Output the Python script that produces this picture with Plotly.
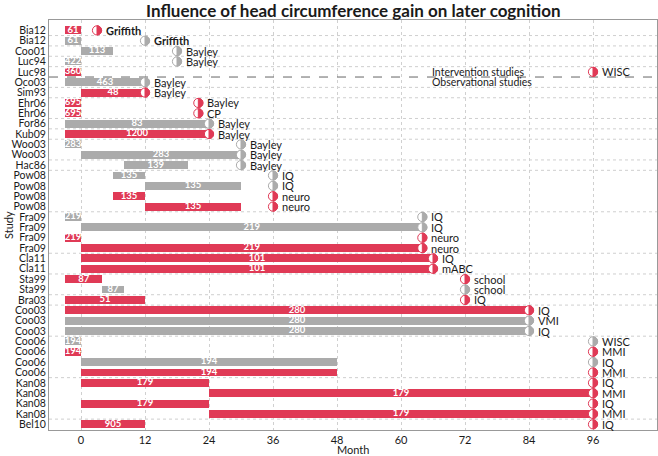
import math
import plotly.graph_objects as go

# ---------------- data ----------------
studies = ["Bia12", "Bia12", "Coo01", "Luc94", "Luc98", "Oco03", "Sim93", "Ehr06", "Ehr06",
           "For86", "Kub09", "Woo03", "Woo03", "Hac86", "Pow08", "Pow08", "Pow08", "Pow08",
           "Fra09", "Fra09", "Fra09", "Fra09", "Cla11", "Cla11", "Sta99", "Sta99", "Bra03",
           "Coo03", "Coo03", "Coo03", "Coo06", "Coo06", "Coo06", "Coo06",
           "Kan08", "Kan08", "Kan08", "Kan08", "Bel10"]
gain_start = [-3, -3, 0, -3, -3, -3, 0, -3, -3, -3, -3, -3, 0, 8, 6, 12, 6, 12,
              -3, 0, -3, 0, 0, 0, -3, 4, -3, -3, -3, -3, -3, -3, 0, 0, 0, 24, 0, 24, 0]
gain_end = [0, 0, 6, 0, 0, 12, 12, 0, 0, 24, 24, 0, 30, 20, 12, 30, 12, 30,
            0, 64, 0, 64, 66, 66, 4, 8, 12, 84, 84, 84, 0, 0, 48, 48, 24, 96, 24, 96, 12]
sample_n = [61, 61, 113, 422, 360, 463, 48, 695, 695, 83, 1200, 283, 283, 139, 135, 135, 135, 135,
            219, 219, 219, 219, 101, 101, 87, 87, 51, 280, 280, 280, 194, 194, 194, 194,
            179, 179, 179, 179, 905]
outcome_month = [3, 12, 18, 18, 96, 12, 12, 22, 22, 24, 24, 30, 30, 30, 36, 36, 36, 36,
                 64, 64, 64, 64, 66, 66, 72, 72, 72, 84, 84, 84, 96, 96, 96, 96, 96, 96, 96, 96, 96]
outcome = ["Griffith", "Griffith", "Bayley", "Bayley", "WISC", "Bayley", "Bayley", "Bayley", "CP",
           "Bayley", "Bayley", "Bayley", "Bayley", "Bayley", "IQ", "IQ", "neuro", "neuro",
           "IQ", "IQ", "neuro", "neuro", "IQ", "mABC", "school", "school", "IQ",
           "IQ", "VMI", "IQ", "WISC", "MMI", "IQ", "MMI", "IQ", "MMI", "IQ", "MMI", "IQ"]
association = ["yes", "no", "no", "no", "yes", "no", "yes", "yes", "yes", "no", "yes", "no", "no",
               "no", "no", "no", "yes", "yes", "no", "no", "yes", "yes", "yes", "yes", "yes", "no",
               "yes", "yes", "no", "no", "no", "yes", "no", "yes", "yes", "yes", "yes", "yes", "yes"]
month_ticks = [0, 12, 24, 36, 48, 60, 72, 84, 96]
n_intervention = 5

RED = "#E03A56"
GRAY = "#ABABAB"
FONT = "Lato"
TXT = "#1a1a1a"

rows = list(range(len(studies)))
colors = [RED if a == "yes" else GRAY for a in association]

fig = go.Figure()

fig.add_trace(go.Bar(
    orientation="h",
    y=rows,
    base=gain_start,
    x=[e - s for s, e in zip(gain_start, gain_end)],
    width=0.76,
    marker=dict(color=colors, line=dict(width=0)),
    hoverinfo="skip",
    showlegend=False,
))

fig.add_trace(go.Scatter(
    x=[(s + e) / 2 for s, e in zip(gain_start, gain_end)],
    y=rows,
    mode="text",
    text=[str(v) for v in sample_n],
    textposition="middle center",
    textfont=dict(family=FONT, size=9.5, color="white", weight="bold"),
    hoverinfo="skip",
    showlegend=False,
))

shapes = []
# horizontal dotted separators between studies
for i in range(len(studies) - 1):
    if i + 1 == n_intervention:
        continue
    if studies[i] != studies[i + 1] or i == 0:
        shapes.append(dict(type="line", xref="paper", x0=0, x1=1, yref="y",
                           y0=i + 0.5, y1=i + 0.5, layer="below",
                           line=dict(color="#cfcfcf", width=1, dash="dot")))
# intervention / observational divider
shapes.append(dict(type="line", xref="paper", x0=0, x1=1, yref="y",
                   y0=n_intervention - 0.5, y1=n_intervention - 0.5,
                   line=dict(color="#666666", width=1, dash="dash")))

# half-filled circle markers
R = 4.6
half = " ".join(("M" if k == 0 else "L") + f" {R*math.cos(t):.2f},{R*math.sin(t):.2f}"
                for k, t in enumerate([-math.pi/2 + math.pi*j/16 for j in range(17)])) + " Z"
annotations = []
for i in rows:
    c = colors[i]
    shapes.append(dict(type="circle", xref="x", yref="y", xsizemode="pixel", ysizemode="pixel",
                       xanchor=outcome_month[i], yanchor=i, x0=-R, x1=R, y0=-R, y1=R,
                       fillcolor="white", line=dict(color=c, width=1)))
    shapes.append(dict(type="path", xref="x", yref="y", xsizemode="pixel", ysizemode="pixel",
                       xanchor=outcome_month[i], yanchor=i, path=half,
                       fillcolor=c, line=dict(color=c, width=1)))
    lab = outcome[i]
    if lab == "Griffith":
        lab = "<b>" + lab + "</b>"
    annotations.append(dict(x=outcome_month[i], y=i, xref="x", yref="y", text=lab,
                            xanchor="left", yanchor="middle", xshift=7, showarrow=False,
                            font=dict(family=FONT, size=11, color=TXT)))

annotations.append(dict(x=65.5, y=n_intervention - 1, xref="x", yref="y",
                        text="Intervention studies", xanchor="left", yanchor="middle",
                        showarrow=False, font=dict(family=FONT, size=10.5, color=TXT)))
annotations.append(dict(x=65.5, y=n_intervention, xref="x", yref="y",
                        text="Observational studies", xanchor="left", yanchor="middle",
                        showarrow=False, font=dict(family=FONT, size=10.5, color=TXT)))
annotations.append(dict(x=0.5, y=-19 / 410, xref="paper", yref="paper", text="Month",
                        xanchor="center", yanchor="middle", showarrow=False,
                        font=dict(family=FONT, size=11, color=TXT)))
annotations.append(dict(x=-41 / 608, y=0.5, xref="paper", yref="paper", text="Study",
                        textangle=-90, xanchor="center", yanchor="middle", showarrow=False,
                        font=dict(family=FONT, size=11, color=TXT)))

fig.update_layout(
    width=658, height=456,
    margin=dict(l=49, r=1, t=20, b=26, autoexpand=False),
    paper_bgcolor="white", plot_bgcolor="white",
    title=dict(text="<b>Influence of head circumference gain on later cognition</b>",
               x=0.537, xanchor="center", y=1 - 11 / 456, yanchor="middle",
               font=dict(family=FONT, size=17, color=TXT), automargin=False),
    shapes=shapes,
    annotations=annotations,
    bargap=0,
    showlegend=False,
)
fig.update_xaxes(range=[-6, 108], tickvals=month_ticks, ticktext=[str(m) for m in month_ticks],
                 showgrid=True, gridcolor="#d0d0d0", griddash="dot", gridwidth=1,
                 zeroline=False, showline=True, linecolor="#999999", linewidth=1, mirror=True,
                 ticks="", automargin=False, tickfont=dict(family=FONT, size=11, color=TXT))
fig.update_yaxes(range=[len(studies) - 0.45, -1.0], tickvals=rows, ticktext=studies,
                 showgrid=False, zeroline=False, showline=True, linecolor="#999999",
                 linewidth=1, mirror=True, ticks="", automargin=False,
                 tickfont=dict(family=FONT, size=10.5, color=TXT))

fig.write_html("out.html", config={"displayModeBar": False},
               post_script="document.body.style.margin='0';document.body.style.overflow='hidden';")
